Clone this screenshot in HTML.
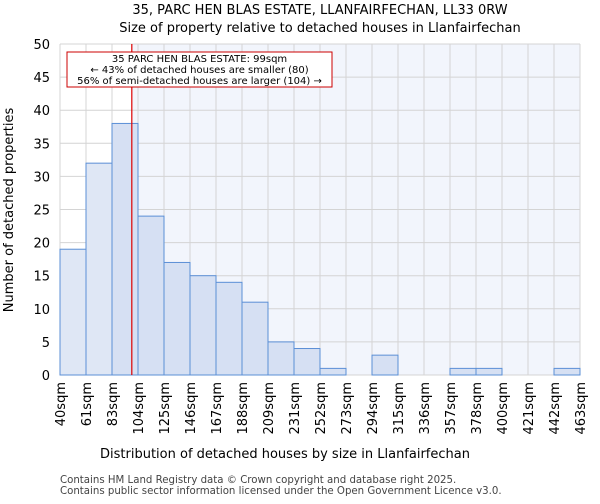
<!DOCTYPE html>
<html><head><meta charset="utf-8"><style>
body{margin:0;background:#fff;font-family:"DejaVu Sans","Liberation Sans",sans-serif}
</style></head><body>
<svg id="c" width="600" height="500" xmlns="http://www.w3.org/2000/svg" font-family="DejaVu Sans, Liberation Sans, sans-serif">
<text x="320" y="14" text-anchor="middle" font-size="13">35, PARC HEN BLAS ESTATE, LLANFAIRFECHAN, LL33 0RW</text>
<text x="320" y="32" text-anchor="middle" font-size="13">Size of property relative to detached houses in Llanfairfechan</text>
<g id="plot"></g>
<text x="285" y="458" text-anchor="middle" font-size="13">Distribution of detached houses by size in Llanfairfechan</text>
<text transform="translate(13,210) rotate(-90)" text-anchor="middle" font-size="13">Number of detached properties</text>
<text x="60" y="483" font-size="10.2" fill="#444">Contains HM Land Registry data © Crown copyright and database right 2025.</text>
<text x="60" y="494" font-size="10.2" fill="#444">Contains public sector information licensed under the Open Government Licence v3.0.</text>
</svg>
<script>
const categories=["40sqm","61sqm","83sqm","104sqm","125sqm","146sqm","167sqm","188sqm","209sqm","231sqm","252sqm","273sqm","294sqm","315sqm","336sqm","357sqm","378sqm","400sqm","421sqm","442sqm","463sqm"];
const binStarts=[40,61,83,104,125,146,167,188,209,231,252,273,294,315,336,357,378,400,421,442,463];
const counts=[19,32,38,24,17,15,14,11,5,4,1,0,3,0,0,1,1,0,0,1];
const yTicks=[0,5,10,15,20,25,30,35,40,45,50];
const propertySize=99;
const ns="http://www.w3.org/2000/svg";
const g=document.getElementById('plot');
const X0=60,X1=580,Y0=375,Y1=44,N=counts.length,bw=(X1-X0)/N;
function xi(i){return X0+i*bw;}
function ys(v){return Y0-(v/50)*(Y0-Y1);}
function xv(v){let i=0;while(i<N-1&&binStarts[i+1]<=v)i++;return xi(i)+bw*(v-binStarts[i])/(binStarts[i+1]-binStarts[i]);}
function mk(t,a){const e=document.createElementNS(ns,t);for(const k in a)e.setAttribute(k,a[k]);g.appendChild(e);return e;}
const rx=xv(propertySize);
let e=mk('rect',{x:rx,y:Y1,width:X1-rx,height:Y0-Y1,fill:'#f2f5fc'});


yTicks.forEach(t=>{
 let l=mk('line',{x1:X0,x2:X1,y1:ys(t),y2:ys(t),stroke:'#d4d4d4'});
 
 
 let tx=mk('text',{x:X0-10,y:ys(t)+5,'text-anchor':'end','font-size':13});
 tx.textContent=t;
 
 
});
for(let i=0;i<=N;i++){
 let l=mk('line',{x1:xi(i),x2:xi(i),y1:Y1,y2:Y0,stroke:'#d4d4d4'});
 
 
}
counts.forEach((c,i)=>{
 let r=mk('rect',{x:xi(i),y:ys(c),width:bw,height:Y0-ys(c),fill:xi(i+1)<=rx?'#dfe7f5':'#d6e0f3',stroke:'#5b8fd6','stroke-width':1});
 
 
});
categories.forEach((c,i)=>{
 let tx=mk('text',{transform:`translate(${xi(i)+5},382) rotate(-90)`,'text-anchor':'end','font-size':13});
 tx.textContent=c;
 
 
});
e=mk('line',{x1:rx,x2:rx,y1:Y1,y2:Y0,stroke:'#d00','stroke-width':1.2});


e=mk('rect',{x:67,y:52,width:265,height:35,fill:'#fff',stroke:'#c00'});


["35 PARC HEN BLAS ESTATE: 99sqm","← 43% of detached houses are smaller (80)","56% of semi-detached houses are larger (104) →"].forEach((s,k)=>{
 let tx=mk('text',{x:199.5,y:62+k*11,'text-anchor':'middle','font-size':10});
 tx.textContent=s;
 
 
});
</script>
</body></html>
